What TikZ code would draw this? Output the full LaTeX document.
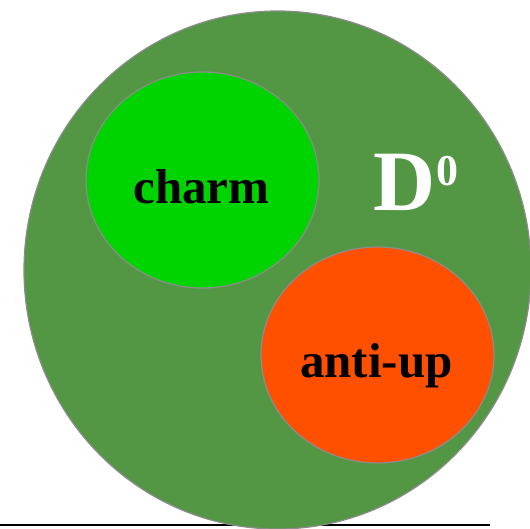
\documentclass[tikz,border=0pt]{standalone}
\usepackage{fontspec}
\setmainfont{Liberation Serif}
\definecolor{biggreen}{RGB}{83,151,69}
\definecolor{brightgreen}{RGB}{0,212,0}
\definecolor{redorange}{RGB}{255,80,0}
\definecolor{rimgray}{RGB}{140,140,140}
\begin{document}
\begin{tikzpicture}[x=1pt,y=-1pt,
  blob/.style={ellipse, draw=rimgray, line width=1.2pt, inner sep=0pt},
  lbl/.style={font=\bfseries\fontsize{49}{58}\selectfont, text=black, anchor=base, inner sep=0pt}]
\useasboundingbox (0,0) rectangle (530,528);
\clip (0,0) rectangle (530,528);
% bottom rule
\coordinate (ruleL) at (0,525);
\coordinate (ruleR) at (490,525);
\draw[line width=1.6pt, black] (ruleL) -- (ruleR);
% D0 outer circle
\fill[biggreen, draw=rimgray, line width=1.2pt] (277.5,270) ellipse [x radius=253.5, y radius=259];
\coordinate (d0) at (277.5,270);
% charm
\fill[brightgreen, draw=rimgray, line width=1.2pt] (202.5,180) ellipse [x radius=116.5, y radius=108];
\coordinate (charm) at (202.5,180);
% anti-up
\fill[redorange, draw=rimgray, line width=1.2pt] (377.5,355) ellipse [x radius=116.5, y radius=108];
\coordinate (antiup) at (377.5,355);
% labels
\node[lbl] (charmtext) at (201.5,203) {charm};
\node[lbl] (antiuptext) at (376.5,377) {anti-up};
\node[anchor=base west, inner sep=0pt, text=white, font=\bfseries] (dzero) at (373,210)
  {\fontsize{86}{90}\selectfont D\kern1.5pt\raisebox{25pt}{\fontsize{44}{48}\selectfont 0}};
\end{tikzpicture}
\end{document}
